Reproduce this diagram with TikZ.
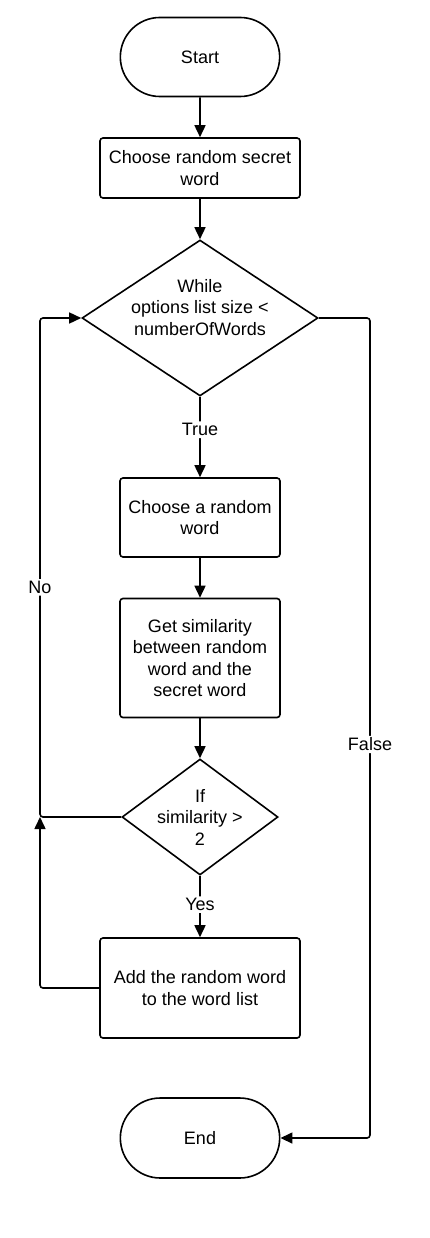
\documentclass[tikz,border=0pt]{standalone}
\usepackage{fontspec}
\setmainfont{Liberation Sans}
\usetikzlibrary{shapes.geometric,shapes.misc,arrows.meta,positioning}

\begin{document}
\begin{tikzpicture}[x=1pt, y=-1pt,
    every node/.style={font=\fontsize{18}{21.5}\selectfont},
    terminal/.style={draw, line width=1.6pt, rounded rectangle, minimum width=166pt, minimum height=79pt},
    process/.style={draw, line width=1.6pt, rectangle, rounded corners=3pt, align=center, inner sep=0pt},
    decision/.style={draw, line width=1.6pt, diamond, aspect=1.5, align=center, inner sep=-20pt},
    flow/.style={line width=1.6pt, rounded corners=3pt, -{Triangle[length=12pt,width=11pt]}},
    branch/.style={fill=white, inner sep=2pt}]
    \useasboundingbox (0,0) rectangle (430,1238);

    % Start
    \node[terminal] (start) at (200,57) {Start};

    % Secret word
    \node[process, minimum width=200pt, minimum height=60pt] (secret) at (200,168) {Choose random secret\\word};

    % While loop
    \node[decision, minimum width=236pt, minimum height=156pt] (while) at (200,318) {While\\options list size <\\numberOfWords\\\mbox{}};

    % Loop body
    \node[process, minimum width=160pt, minimum height=79pt] (random) at (200,517.5) {Choose a random\\word};
    \node[process, minimum width=160pt, minimum height=119pt] (similar) at (200,658) {Get similarity\\between random\\word and the\\secret word};
    \node[decision, minimum width=156pt, minimum height=116pt] (if) at (200,817) {If\\similarity >\\2};
    \node[process, minimum width=200pt, minimum height=100pt] (add) at (200,988) {Add the random word\\to the word list};

    % End
    \node[terminal, minimum height=80pt] (end) at (200,1138) {End};

    % Corners of the loops
    \coordinate (nocorner) at (40,817);
    \coordinate (falsecorner) at (370,318);

    % Arrows
    \draw[flow] (start) -- (secret);
    \draw[flow] (secret) -- (while);
    \draw[flow] (while) -- node[branch, pos=0.41] {True} (random);
    \draw[flow] (random) -- (similar);
    \draw[flow] (similar) -- (if);
    \draw[flow] (if) -- node[branch, pos=0.47] {Yes} (add);
    \draw[flow] (if.west) -- (nocorner) |- node[branch, pos=0.23] {No} (while.west);
    \draw[flow] (add.west) -| (nocorner);
    \draw[flow] (while.east) -- (falsecorner) |- node[branch, pos=0.26] {False} (end.east);
\end{tikzpicture}
\end{document}
